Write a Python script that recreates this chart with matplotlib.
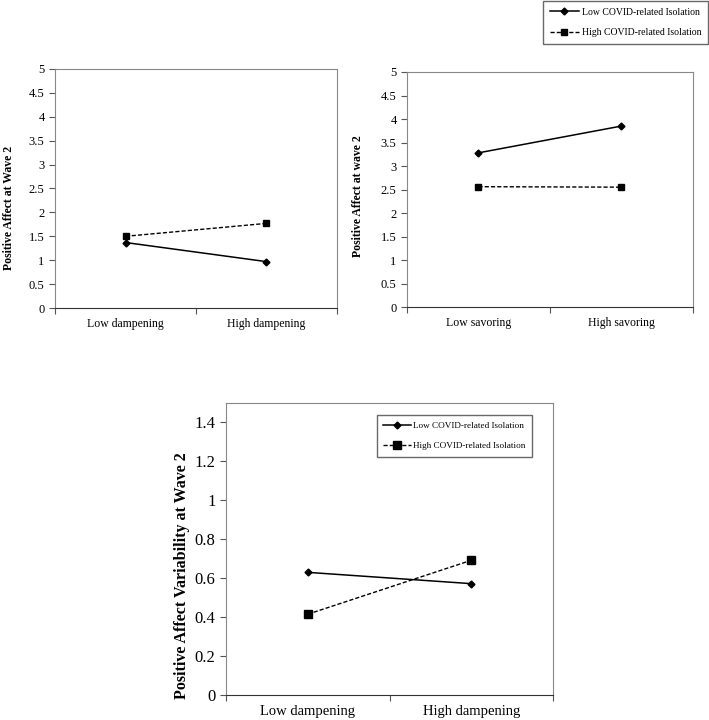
import matplotlib.pyplot as plt
from matplotlib.lines import Line2D

plt.rcParams['font.family'] = ['Liberation Serif', 'DejaVu Serif']

# data
damp_cats = ['Low dampening', 'High dampening']
sav_cats = ['Low savoring', 'High savoring']

pa_damp_low_iso = [1.37, 0.97]
pa_damp_high_iso = [1.50, 1.77]

pa_sav_low_iso = [3.28, 3.85]
pa_sav_high_iso = [2.56, 2.55]

var_damp_low_iso = [0.63, 0.572]
var_damp_high_iso = [0.415, 0.692]

low_label = 'Low COVID-related Isolation'
high_label = 'High COVID-related Isolation'

DASH = (0, (3, 1.5))


def draw_panel(ax, cats, low_vals, high_vals, ylim, yticks, tick_fs, cat_fs,
               ylabel, ylabel_fs, ylabel_pos, sq_ms):
    xs = [0.5, 1.5]
    ax.plot(xs, low_vals, color='black', lw=1.1, marker='D', ms=3.5,
            label=low_label)
    ax.plot(xs, high_vals, color='black', lw=1.0, ls=DASH, marker='s',
            ms=sq_ms, label=high_label)
    ax.set_xlim(0, 2)
    ax.set_ylim(*ylim)
    ax.set_yticks(yticks)
    ax.set_yticklabels([('%g' % t) for t in yticks], fontsize=tick_fs)
    # category ticks sit between the groups, labels centred under points
    ax.set_xticks([0, 1, 2])
    ax.set_xticklabels([])
    ax.set_xticks(xs, minor=True)
    ax.set_xticklabels(cats, minor=True, fontsize=cat_fs)
    ax.tick_params(axis='x', which='minor', length=0, pad=7)
    ax.tick_params(axis='x', which='major', length=4, direction='out', color='#555555')
    ax.tick_params(axis='y', length=4, direction='out', color='#555555')
    for side in ['top', 'right', 'left']:
        ax.spines[side].set_color('#888888')
    ax.spines['bottom'].set_color('#333333')
    ax.set_ylabel(ylabel, fontsize=ylabel_fs, fontweight='bold')
    ax.yaxis.set_label_coords(*ylabel_pos)


def style_legend(leg):
    leg.get_frame().set_edgecolor('#444444')
    leg.get_frame().set_linewidth(1.0)


fig = plt.figure(figsize=(7.09, 7.2), dpi=100)

ax1 = fig.add_axes([0.0776, 0.5722, 0.3977, 0.332])
draw_panel(ax1, damp_cats, pa_damp_low_iso, pa_damp_high_iso, (0, 5),
           [0, 0.5, 1, 1.5, 2, 2.5, 3, 3.5, 4, 4.5, 5], 9, 8.5,
           'Positive Affect at Wave 2', 8.5, (-0.142, 0.42), 4.5)

ax2 = fig.add_axes([0.574, 0.5736, 0.4034, 0.3264])
draw_panel(ax2, sav_cats, pa_sav_low_iso, pa_sav_high_iso, (0, 5),
           [0, 0.5, 1, 1.5, 2, 2.5, 3, 3.5, 4, 4.5, 5], 9, 8.5,
           'Positive Affect at wave 2', 8.5, (-0.15, 0.47), 4.5)

ax3 = fig.add_axes([0.3188, 0.0347, 0.4612, 0.4056])
draw_panel(ax3, damp_cats, var_damp_low_iso, var_damp_high_iso, (0, 1.5),
           [0, 0.2, 0.4, 0.6, 0.8, 1, 1.2, 1.4], 12, 10.5,
           'Positive Affect Variability at Wave 2', 11.5, (-0.11, 0.41), 5.5)

# legend shared by the two top panels
handles = [
    Line2D([], [], color='black', lw=1.1, marker='D', ms=3.5),
    Line2D([], [], color='black', lw=1.0, ls=DASH, marker='s', ms=4.5),
]
leg = fig.legend(handles, [low_label, high_label], loc='upper right',
                 bbox_to_anchor=(1.0, 1.0), fontsize=7, fancybox=False,
                 handlelength=3.0, handletextpad=0.3, borderpad=0.7,
                 labelspacing=1.2, borderaxespad=0.1)
style_legend(leg)

leg3 = ax3.legend(loc='upper right', bbox_to_anchor=(0.936, 0.959), fontsize=6.6,
                  fancybox=False, handlelength=3.0, handletextpad=0.3,
                  borderpad=0.7, labelspacing=1.3, borderaxespad=0.0)
style_legend(leg3)

plt.savefig('out.png', dpi=100, facecolor='w')
plt.close()
